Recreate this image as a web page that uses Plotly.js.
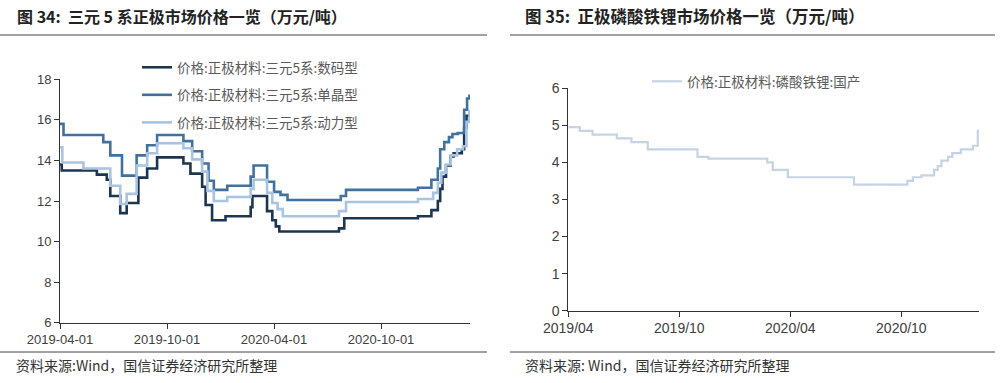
<!DOCTYPE html>
<html>
<head>
<meta charset="utf-8">
<script src="https://cdn.plot.ly/plotly-3.0.1.min.js"></script>
<style>html,body{margin:0;padding:0;background:#fff;}#chart{width:1000px;height:383px;}</style>
</head>
<body>
<div id="chart"></div>
<script>
// ---- Data (万元/吨), step series: value holds from its date until next date ----
const digitalDates = ['2019-04-01','2019-04-04','2019-06-03','2019-06-20','2019-06-26','2019-07-13','2019-07-24','2019-08-13','2019-08-28','2019-09-14','2019-10-29','2019-11-10','2019-11-30','2019-12-06','2019-12-17','2020-01-09','2020-02-21','2020-02-24','2020-03-20','2020-03-29','2020-04-04','2020-04-10','2020-07-21','2020-07-30','2020-12-03','2020-12-26','2021-01-06','2021-01-10','2021-01-14','2021-01-20','2021-01-28','2021-02-02','2021-02-16','2021-02-20','2021-02-24','2021-03-01'];
const digitalVals  = [13.8,13.5,13.3,13.05,12.25,11.4,11.9,13.15,13.6,14.15,13.85,13.35,12.7,11.8,11.05,11.25,11.7,12.25,11.5,11.05,10.75,10.5,10.65,11.15,11.25,11.55,12.0,12.6,13.2,13.75,14.2,14.35,14.55,15.6,16.2,16.3];

const singleDates = ['2019-04-01','2019-04-07','2019-06-14','2019-06-26','2019-07-16','2019-08-10','2019-08-28','2019-09-14','2019-10-29','2019-11-13','2019-11-30','2019-12-11','2019-12-20','2020-01-12','2020-02-21','2020-02-26','2020-03-20','2020-04-01','2020-04-12','2020-04-24','2020-07-24','2020-08-02','2020-12-03','2020-12-26','2021-01-06','2021-01-10','2021-01-17','2021-01-25','2021-01-31','2021-02-09','2021-02-20','2021-02-25','2021-03-01'];
const singleVals  = [15.8,15.25,14.9,14.25,13.25,14.25,14.75,15.25,14.95,14.45,13.85,13.0,12.55,12.75,13.2,13.75,12.95,12.45,12.3,12.05,12.25,12.55,12.65,13.05,13.6,14.55,14.9,15.15,15.3,15.35,16.5,17.05,17.25];

const powerDates = ['2019-04-01','2019-04-05','2019-05-11','2019-06-26','2019-07-13','2019-07-24','2019-08-10','2019-08-28','2019-09-14','2019-10-29','2019-11-13','2019-11-30','2019-12-09','2019-12-20','2020-01-12','2020-02-21','2020-02-26','2020-03-20','2020-03-29','2020-04-07','2020-04-16','2020-07-21','2020-08-02','2020-12-03','2020-12-29','2021-01-06','2021-01-12','2021-01-20','2021-01-28','2021-02-08','2021-02-18','2021-02-24','2021-03-01'];
const powerVals  = [14.65,13.9,13.6,12.75,11.85,12.35,13.75,14.35,14.85,14.6,14.05,13.45,12.5,12.0,12.2,12.6,13.05,12.4,11.9,11.6,11.25,11.5,11.95,12.1,12.4,12.9,13.4,13.8,14.25,14.55,14.7,15.9,16.5];

const lfpDates = ['2019-04-01','2019-04-20','2019-05-11','2019-06-20','2019-07-14','2019-08-10','2019-10-31','2019-11-18','2020-02-23','2020-03-03','2020-03-28','2020-07-15','2020-10-11','2020-10-20','2020-11-03','2020-11-24','2020-11-30','2020-12-06','2020-12-17','2020-12-24','2021-01-07','2021-01-27','2021-02-04','2021-02-05'];
const lfpVals  = [4.95,4.85,4.75,4.65,4.55,4.35,4.15,4.1,4.0,3.8,3.6,3.4,3.5,3.6,3.65,3.8,3.9,4.05,4.15,4.25,4.35,4.45,4.85,4.88];

const leftNames = ['价格:正极材料:三元5系:数码型','价格:正极材料:三元5系:单晶型','价格:正极材料:三元5系:动力型'];
const rightName = '价格:正极材料:磷酸铁锂:国产';
const leftTickVals = ['2019-04-01','2019-10-01','2020-04-01','2020-10-01'];
const leftTickText = ['2019-04-01','2019-10-01','2020-04-01','2020-10-01'];
const rightTickText = ['2019/04','2019/10','2020/04','2020/10'];

const tickFont = {family:'Liberation Sans, Arial, sans-serif', size:13, color:'#404040'};
const legFont = {family:'Noto Sans CJK SC, sans-serif', size:13.5, color:'#5a5a5a'};

const traces = [
  {x:digitalDates, y:digitalVals, name:leftNames[0], type:'scatter', mode:'lines', line:{shape:'hv', color:'#1c3550', width:2.6}, xaxis:'x', yaxis:'y', legend:'legend', legendgroup:'a'},
  {x:singleDates, y:singleVals, name:leftNames[1], type:'scatter', mode:'lines', line:{shape:'hv', color:'#41729e', width:2.6}, xaxis:'x', yaxis:'y', legend:'legend', legendgroup:'b'},
  {x:powerDates, y:powerVals, name:leftNames[2], type:'scatter', mode:'lines', line:{shape:'hv', color:'#a8c4e0', width:2.6}, xaxis:'x', yaxis:'y', legend:'legend', legendgroup:'c'},
  {x:lfpDates, y:lfpVals, name:rightName, type:'scatter', mode:'lines', line:{shape:'hv', color:'#c5d4e4', width:2.2}, xaxis:'x2', yaxis:'y2', legend:'legend2', showlegend:true}
];

const axisCommon = {showgrid:false, zeroline:false, showline:true, linecolor:'#333', linewidth:1, ticks:'outside', ticklen:5, tickcolor:'#333', tickfont:tickFont, fixedrange:true};

const layout = {
  width:1000, height:383,
  margin:{l:0,r:0,t:0,b:0},
  paper_bgcolor:'#fff', plot_bgcolor:'#fff',
  showlegend:true,
  xaxis: Object.assign({}, axisCommon, {domain:[0.06,0.47], type:'date', range:['2019-04-01','2021-03-02'], tickvals:leftTickVals, ticktext:leftTickText, anchor:'y'}),
  yaxis: Object.assign({}, axisCommon, {domain:[0.1574,0.793], range:[6,18], dtick:2, anchor:'x'}),
  xaxis2: Object.assign({}, axisCommon, {domain:[0.5683,0.979], type:'date', range:['2019-04-01','2021-02-06'], tickvals:leftTickVals, ticktext:rightTickText, anchor:'y2', tickfont:Object.assign({}, tickFont, {size:14})}),
  yaxis2: Object.assign({}, axisCommon, {domain:[0.1888,0.7695], range:[0,6], dtick:1, anchor:'x2', tickfont:Object.assign({}, tickFont, {size:14})}),
  legend:{x:0.137, y:1-52/383, xanchor:'left', yanchor:'top', bgcolor:'rgba(0,0,0,0)', font:legFont, traceorder:'grouped', tracegroupgap:7, itemwidth:30},
  legend2:{x:0.647, y:1-66/383, xanchor:'left', yanchor:'top', bgcolor:'rgba(0,0,0,0)', font:legFont},
  shapes:[
    {type:'line', xref:'paper', yref:'paper', x0:0, x1:0.487, y0:1-35/383, y1:1-35/383, line:{color:'#444', width:1}},
    {type:'line', xref:'paper', yref:'paper', x0:0.51, x1:0.995, y0:1-35/383, y1:1-35/383, line:{color:'#444', width:1}},
    {type:'line', xref:'paper', yref:'paper', x0:0, x1:0.487, y0:1-352/383, y1:1-352/383, line:{color:'#444', width:1}},
    {type:'line', xref:'paper', yref:'paper', x0:0.51, x1:0.995, y0:1-352/383, y1:1-352/383, line:{color:'#444', width:1}}
  ],
  annotations:[
    {text:'<b>图 34:  三元 5 系正极市场价格一览（万元/吨）</b>', xref:'paper', yref:'paper', x:15/1000, y:1-16/383, xanchor:'left', yanchor:'middle', showarrow:false, font:{family:'Noto Sans CJK SC, sans-serif', size:16, color:'#222'}},
    {text:'<b>图 35:  正极磷酸铁锂市场价格一览（万元/吨）</b>', xref:'paper', yref:'paper', x:523/1000, y:1-16/383, xanchor:'left', yanchor:'middle', showarrow:false, font:{family:'Noto Sans CJK SC, sans-serif', size:16.5, color:'#222'}},
    {text:'资料来源:Wind，国信证券经济研究所整理', xref:'paper', yref:'paper', x:14/1000, y:1-365/383, xanchor:'left', yanchor:'middle', showarrow:false, font:{family:'Noto Sans CJK SC, sans-serif', size:14, color:'#333'}},
    {text:'资料来源: Wind，国信证券经济研究所整理', xref:'paper', yref:'paper', x:523/1000, y:1-365/383, xanchor:'left', yanchor:'middle', showarrow:false, font:{family:'Noto Sans CJK SC, sans-serif', size:14, color:'#333'}}
  ]
};

Plotly.newPlot('chart', traces, layout, {displayModeBar:false, staticPlot:true});
</script>
</body>
</html>
